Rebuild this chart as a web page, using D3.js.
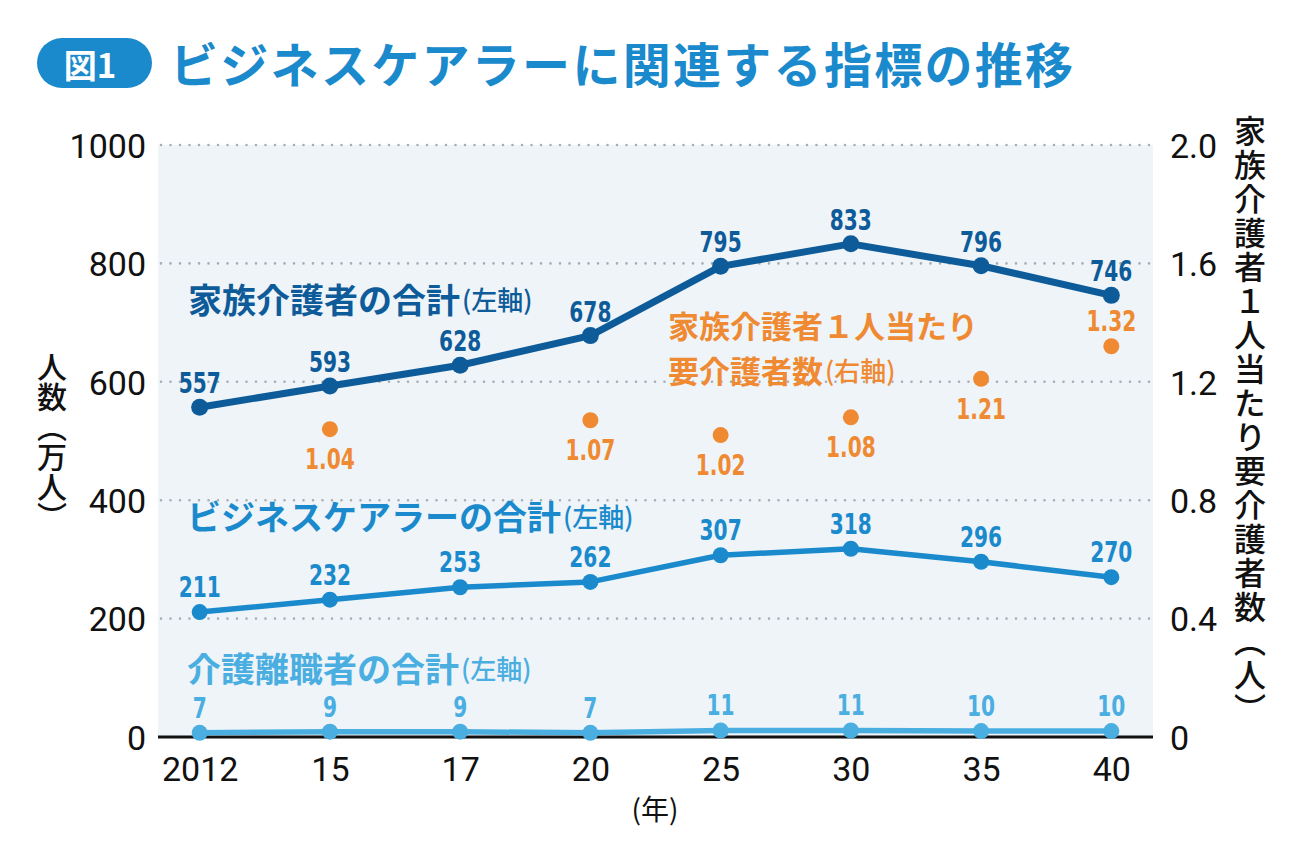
<!DOCTYPE html>
<html><head><meta charset="utf-8">
<script src="https://cdn.jsdelivr.net/npm/d3@7"></script>
<style>
html,body{margin:0;padding:0;background:#fff;}
svg{display:block;}
</style></head>
<body>
<svg id="chart" width="1300" height="867"></svg>
<script>
const years = ["2012","15","17","20","25","30","35","40"];
const familyCarers = [557,593,628,678,795,833,796,746];
const businessCarers = [211,232,253,262,307,318,296,270];
const careLeavers = [7,9,9,7,11,11,10,10];
const ratioYears = ["15","20","25","30","35","40"];
const ratioValues = [1.04,1.07,1.02,1.08,1.21,1.32];
const leftTicks = [0,200,400,600,800,1000];
const rightTicks = [0,0.4,0.8,1.2,1.6,2.0];

const C = {dark:"#0e5b9a", mid:"#1a8acd", light:"#4aaee1", orange:"#ef8a33", bg:"#eef4f8", grid:"#a6adb3"};
const numFont = "'Liberation Sans Narrow','Arial Narrow','DejaVu Sans Condensed',sans-serif";
const jpFont = "'Noto Sans CJK JP','Noto Sans',sans-serif";
const tickFont = "Roboto,'Noto Sans',sans-serif";

const svg = d3.select("#chart");
const L = 158, R = 1153, T = 145, B = 737;

const x = d3.scalePoint().domain(years).range([L, R]).padding(0.32);
const y = d3.scaleLinear().domain([0,1000]).range([B, T]);
const y2 = d3.scaleLinear().domain([0,2]).range([B, T]);

// title badge
svg.append("rect").attr("x",37).attr("y",38).attr("width",115).attr("height",50).attr("rx",25).attr("fill",C.mid);
svg.append("text").attr("x",90).attr("y",64).attr("text-anchor","middle").attr("dominant-baseline","central")
  .attr("font-family",jpFont).attr("font-weight",700).attr("font-size",33).attr("fill","#fff").text("図1");
svg.append("text").attr("x",170).attr("y",62).attr("dominant-baseline","central")
  .attr("font-family",jpFont).attr("font-weight",700).attr("font-size",48).attr("letter-spacing",2.3)
  .attr("fill",C.mid).text("ビジネスケアラーに関連する指標の推移");

// plot background
svg.append("rect").attr("x",L).attr("y",T).attr("width",R-L).attr("height",B-T).attr("fill",C.bg);

// gridlines
svg.append("g").selectAll("line").data(leftTicks.filter(d=>d>0)).join("line")
  .attr("x1",L+3).attr("x2",R).attr("y1",d=>y(d)).attr("y2",d=>y(d))
  .attr("stroke",C.grid).attr("stroke-width",2.6).attr("stroke-linecap","round").attr("stroke-dasharray","0,9.5");

// zero line
svg.append("line").attr("x1",L).attr("x2",R).attr("y1",y(0)).attr("y2",y(0)).attr("stroke","#111").attr("stroke-width",3);

// left axis
const gl = svg.append("g").attr("transform",`translate(${L-12},0)`)
  .call(d3.axisLeft(y).tickValues(leftTicks).tickSize(0).tickPadding(0).tickFormat(d3.format("d")));
gl.select(".domain").remove();
gl.selectAll("text").attr("font-family",tickFont).attr("font-size",34).attr("fill","#111").attr("dy","0.36em");

// right axis
const gr = svg.append("g").attr("transform",`translate(${R+17},0)`)
  .call(d3.axisRight(y2).tickValues(rightTicks).tickSize(0).tickPadding(0).tickFormat(d=>d===0?"0":d3.format(".1f")(d)));
gr.select(".domain").remove();
gr.selectAll("text").attr("font-family",tickFont).attr("font-size",34).attr("fill","#111").attr("dy","0.36em");

// bottom axis
const gb = svg.append("g").attr("transform",`translate(0,${B+12})`)
  .call(d3.axisBottom(x).tickSize(0).tickPadding(0));
gb.select(".domain").remove();
gb.selectAll("text").attr("font-family",tickFont).attr("font-size",34).attr("fill","#111").attr("dy","0.95em");

svg.append("text").attr("x",655).attr("y",808).attr("text-anchor","middle").attr("dominant-baseline","central")
  .attr("font-family",jpFont).attr("font-size",28).attr("fill","#111").text("(年)");

// axis titles (vertical)
svg.append("text").attr("x",52).attr("y",442).attr("text-anchor","middle")
  .style("writing-mode","vertical-rl").attr("font-family",jpFont).attr("font-weight",500).attr("font-size",30)
  .attr("fill","#111").text("人数（万人）");
svg.append("text").attr("x",1250).attr("y",421).attr("text-anchor","middle")
  .style("writing-mode","vertical-rl").attr("font-family",jpFont).attr("font-weight",500).attr("font-size",32)
  .attr("letter-spacing",2).attr("fill","#111").text("家族介護者１人当たり要介護者数（人）");

// series
function series(vals, color, lw, r, labelDy) {
  const pts = years.map((yr,i)=>({yr, v:vals[i]}));
  const g = svg.append("g");
  g.append("path").datum(pts).attr("fill","none").attr("stroke",color).attr("stroke-width",lw)
    .attr("stroke-linejoin","round")
    .attr("d", d3.line().x(d=>x(d.yr)).y(d=>y(d.v)));
  g.selectAll("circle").data(pts).join("circle").attr("cx",d=>x(d.yr)).attr("cy",d=>y(d.v)).attr("r",r).attr("fill",color);
  g.selectAll("text").data(pts).join("text")
    .attr("transform",d=>`translate(${x(d.yr)},${y(d.v)+labelDy}) scale(0.8,1)`)
    .attr("text-anchor","middle").attr("font-family",numFont).attr("font-weight",700).attr("font-size",28)
    .attr("fill",color).text(d=>d.v);
}
series(businessCarers, C.mid, 5.5, 8, -15);
series(careLeavers, C.light, 5.5, 8, -15);
series(familyCarers, C.dark, 7, 8.5, -14);

// ratio points
const rp = ratioYears.map((yr,i)=>({yr, v:ratioValues[i]}));
const go = svg.append("g");
go.selectAll("circle").data(rp).join("circle").attr("cx",d=>x(d.yr)).attr("cy",d=>y2(d.v)).attr("r",8).attr("fill",C.orange);
go.selectAll("text").data(rp).join("text")
  .attr("transform",d=>`translate(${x(d.yr)},${y2(d.v)+(d.yr==="40"?-15:40)}) scale(0.8,1)`)
  .attr("text-anchor","middle").attr("font-family",numFont).attr("font-weight",700).attr("font-size",28)
  .attr("fill",C.orange).text(d=>d3.format(".2f")(d.v));

// series labels
function seriesLabel(xp, yp, main, sub, color, fs) {
  const t = svg.append("text").attr("x",xp).attr("y",yp).attr("dominant-baseline","central")
    .attr("font-family",jpFont).attr("font-weight",700).attr("fill",color);
  t.append("tspan").attr("font-size",fs||34).text(main);
  if (sub) t.append("tspan").attr("font-size",26).attr("font-weight",500).attr("dx",2).text(sub);
  return t;
}
seriesLabel(188, 298, "家族介護者の合計", "(左軸)", C.dark);
seriesLabel(187, 515, "ビジネスケアラーの合計", "(左軸)", C.mid);
seriesLabel(187, 667, "介護離職者の合計", "(左軸)", C.light);
seriesLabel(668, 324, "家族介護者１人当たり", null, C.orange, 31);
seriesLabel(668, 369, "要介護者数", "(右軸)", C.orange, 31);
</script>
</body></html>
